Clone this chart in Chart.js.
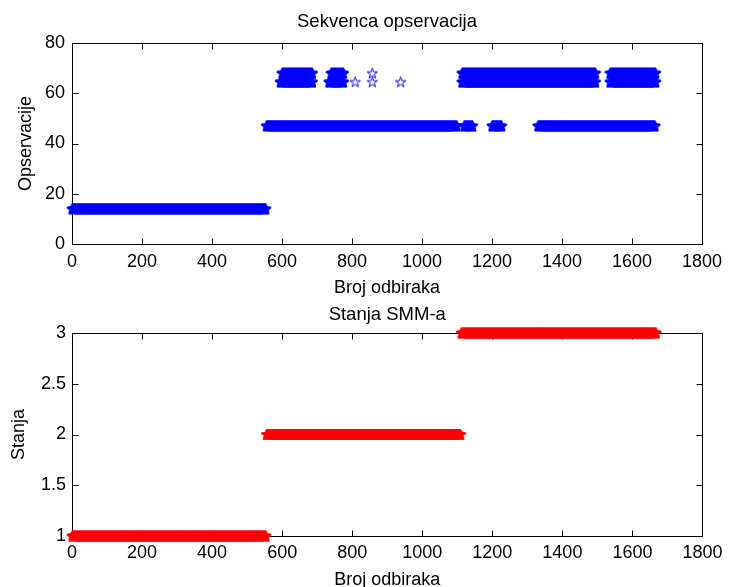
<!DOCTYPE html>
<html>
<head>
<meta charset="utf-8">
<script src="https://cdn.jsdelivr.net/npm/chart.js@4/dist/chart.umd.min.js"></script>
<style>
  html, body { margin: 0; padding: 0; background: #fff; overflow: hidden; }
  #wrap { position: relative; width: 729px; height: 587px; overflow: hidden; }
  #wrap canvas { position: absolute; left: 0; }
  #obsChart { top: 0; }
  #stateChart { top: 296px; }
</style>
</head>
<body>
<div id="wrap">
  <canvas id="obsChart" width="729" height="300"></canvas>
  <canvas id="stateChart" width="729" height="300"></canvas>
</div>
<script>
// Tick labels
const xTicks = [0, 200, 400, 600, 800, 1000, 1200, 1400, 1600, 1800];
const obsTicks = [0, 20, 40, 60, 80];
const stateTicks = [1, 1.5, 2, 2.5, 3];

// Observations: sample-index spans [from, to] where stars sit at each level
const obsRuns14 = [[0, 554]];
const obsRuns47 = [[555, 1100], [1120, 1145], [1200, 1228], [1331, 1666]];
const obsRuns64 = [[595, 687], [734, 776], [809, 809], [858, 858], [939, 939], [1114, 1496], [1537, 1668]];
const obsRuns68 = [[600, 687], [740, 776], [858, 858], [1114, 1496], [1537, 1668]];

// SMM states: sample-index spans for each state
const stateRuns1 = [[0, 554]];
const stateRuns2 = [[555, 1110]];
const stateRuns3 = [[1111, 1668]];

const FONT = "'Liberation Sans', Arial, Helvetica, sans-serif";

function runsToPoints(runs, level) {
  const pts = [];
  runs.forEach(r => {
    for (let i = r[0]; i <= r[1]; i++) pts.push({ x: i, y: level });
  });
  return pts;
}

// MATLAB-like pentagram marker
function makeStar(color) {
  const c = document.createElement("canvas");
  c.width = 13; c.height = 13;
  const g = c.getContext("2d");
  const R = 5.5, r = R * 0.382, cx = 6.5, cy = 6.9;
  g.strokeStyle = color;
  g.lineWidth = 1;
  g.beginPath();
  for (let k = 0; k < 10; k++) {
    const a = -Math.PI / 2 + k * Math.PI / 5;
    const rad = k % 2 ? r : R;
    const px = cx + rad * Math.cos(a), py = cy + rad * Math.sin(a);
    if (k === 0) g.moveTo(px, py); else g.lineTo(px, py);
  }
  g.closePath();
  g.stroke();
  return c;
}

// Box with inward ticks on all four sides, title centred over the axes
const matlabBox = {
  id: "matlabBox",
  beforeDatasetsDraw(chart) {
    const { ctx, chartArea: a, scales } = chart;
    const L = Math.round(a.left) + 0.5, R = Math.round(a.right) + 0.5;
    const T = Math.round(a.top) + 0.5, B = Math.round(a.bottom) + 0.5;
    const len = 6;
    ctx.save();
    ctx.strokeStyle = "#000";
    ctx.lineWidth = 1;
    ctx.strokeRect(L, T, R - L, B - T);
    ctx.beginPath();
    scales.x.ticks.forEach(t => {
      const px = Math.round(scales.x.getPixelForValue(t.value)) + 0.5;
      ctx.moveTo(px, B); ctx.lineTo(px, B - len);
      ctx.moveTo(px, T); ctx.lineTo(px, T + len);
    });
    scales.y.ticks.forEach(t => {
      const py = Math.round(scales.y.getPixelForValue(t.value)) + 0.5;
      ctx.moveTo(L, py); ctx.lineTo(L + len, py);
      ctx.moveTo(R, py); ctx.lineTo(R - len, py);
    });
    ctx.stroke();
    ctx.restore();
  },
  afterDraw(chart, args, opts) {
    const { ctx, chartArea: a } = chart;
    ctx.save();
    ctx.fillStyle = "#000";
    ctx.font = "18.5px " + FONT;
    ctx.textAlign = "center";
    ctx.textBaseline = "alphabetic";
    ctx.fillText(opts.text, (a.left + a.right) / 2, opts.baseline);
    ctx.restore();
  }
};

function makeOptions(cfg) {
  return {
    responsive: false,
    animation: false,
    events: [],
    layout: { padding: { left: 0, right: 22, top: cfg.top, bottom: 0 } },
    plugins: {
      legend: { display: false },
      tooltip: { enabled: false },
      title: { display: false },
      matlabBox: { text: cfg.title, baseline: cfg.titleBaseline }
    },
    scales: {
      x: {
        type: "linear",
        min: 0, max: 1800,
        grid: { display: false, drawTicks: false },
        border: { display: false },
        afterBuildTicks: s => { s.ticks = xTicks.map(v => ({ value: v })); },
        afterFit: s => { s.height = cfg.xHeight; },
        ticks: {
          color: "#000", padding: cfg.xTickPad, maxRotation: 0,
          font: { family: FONT, size: 18 },
          callback: v => String(v)
        },
        title: {
          display: true, text: "Broj odbiraka", color: "#000",
          font: { family: FONT, size: 18 },
          padding: { top: 0, bottom: cfg.xTitlePad }
        }
      },
      y: {
        type: "linear",
        min: cfg.yMin, max: cfg.yMax,
        grid: { display: false, drawTicks: false },
        border: { display: false },
        afterBuildTicks: s => { s.ticks = cfg.yTicks.map(v => ({ value: v })); },
        afterFit: s => { s.width = 72; },
        ticks: {
          color: "#000", padding: cfg.yTickPad,
          font: { family: FONT, size: 18 },
          callback: v => String(v)
        },
        title: {
          display: true, text: cfg.yTitle, color: "#000",
          font: { family: FONT, size: 18 },
          padding: { top: cfg.yTitlePad, bottom: 0 }
        }
      }
    }
  };
}

const blueStar = makeStar("#0000ff");
const redStar = makeStar("#ff0000");

const obsPoints = []
  .concat(runsToPoints(obsRuns14, 14))
  .concat(runsToPoints(obsRuns47, 47))
  .concat(runsToPoints(obsRuns64, 64.5))
  .concat(runsToPoints(obsRuns68, 68));

const statePoints = []
  .concat(runsToPoints(stateRuns1, 1))
  .concat(runsToPoints(stateRuns2, 2))
  .concat(runsToPoints(stateRuns3, 3));

new Chart(document.getElementById("obsChart").getContext("2d"), {
  type: "scatter",
  data: {
    datasets: [{
      data: obsPoints,
      pointStyle: blueStar,
      pointRadius: 5,
      borderColor: "#0000ff",
      backgroundColor: "#0000ff",
      clip: false
    }]
  },
  options: makeOptions({
    title: "Sekvenca opservacija", titleBaseline: 26.5, top: 43,
    xHeight: 56, xTickPad: 7, xTitlePad: 1.5,
    yMin: 0, yMax: 80, yTicks: obsTicks, yTickPad: 7,
    yTitle: "Opservacije", yTitlePad: 15
  }),
  plugins: [matlabBox]
});

new Chart(document.getElementById("stateChart").getContext("2d"), {
  type: "scatter",
  data: {
    datasets: [{
      data: statePoints,
      pointStyle: redStar,
      pointRadius: 5,
      borderColor: "#ff0000",
      backgroundColor: "#ff0000",
      clip: false
    }]
  },
  options: makeOptions({
    title: "Stanja SMM-a", titleBaseline: 23.5, top: 37,
    xHeight: 60, xTickPad: 6.5, xTitlePad: 5,
    yMin: 1, yMax: 3, yTicks: stateTicks, yTickPad: 6,
    yTitle: "Stanja", yTitlePad: 8
  }),
  plugins: [matlabBox]
});
</script>
</body>
</html>
